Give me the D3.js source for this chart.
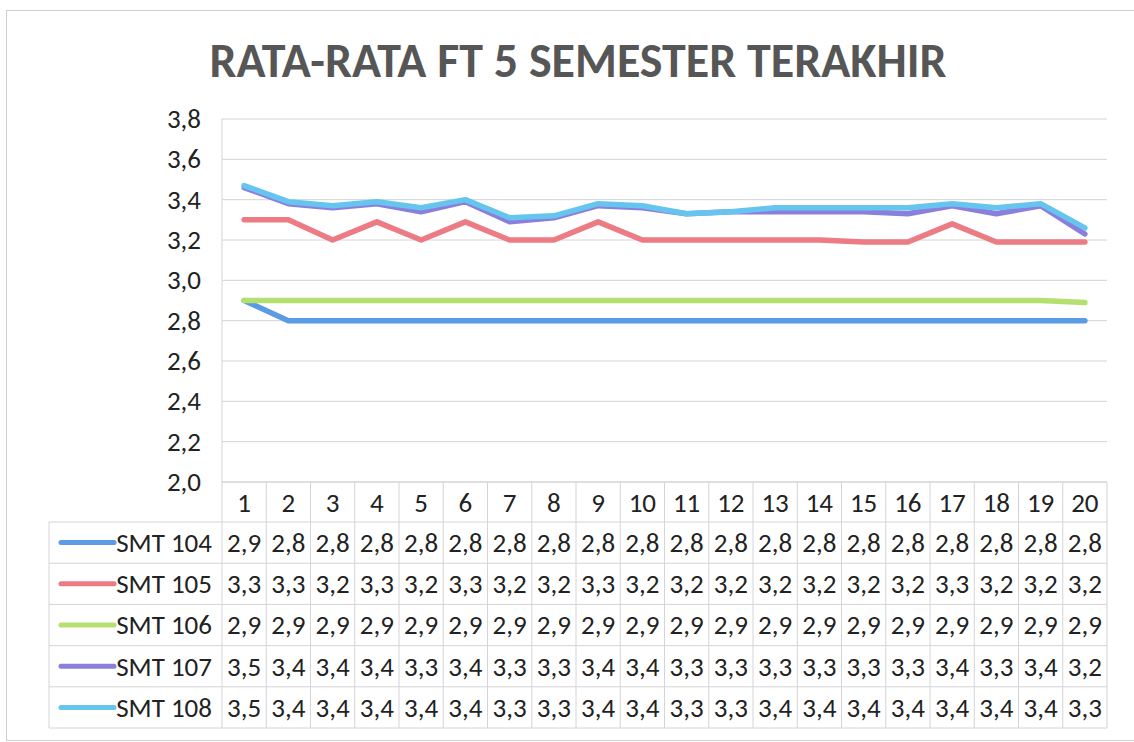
<!DOCTYPE html>
<html>
<head>
<meta charset="utf-8">
<script src="https://cdn.jsdelivr.net/npm/d3@7"></script>
<style>
  body { margin: 0; background: #fff; }
  svg { display: block; }
</style>
</head>
<body>
<svg id="chart" width="1134" height="742"></svg>
<script>
// data
var categories = ["1","2","3","4","5","6","7","8","9","10","11","12","13","14","15","16","17","18","19","20"];
var seriesNames = ["SMT 104", "SMT 105", "SMT 106", "SMT 107", "SMT 108"];
var smt104 = [2.90,2.80,2.80,2.80,2.80,2.80,2.80,2.80,2.80,2.80,2.80,2.80,2.80,2.80,2.80,2.80,2.80,2.80,2.80,2.80];
var smt105 = [3.30,3.30,3.20,3.29,3.20,3.29,3.20,3.20,3.29,3.20,3.20,3.20,3.20,3.20,3.19,3.19,3.28,3.19,3.19,3.19];
var smt106 = [2.90,2.90,2.90,2.90,2.90,2.90,2.90,2.90,2.90,2.90,2.90,2.90,2.90,2.90,2.90,2.90,2.90,2.90,2.90,2.89];
var smt107 = [3.46,3.38,3.36,3.38,3.34,3.39,3.29,3.31,3.37,3.36,3.33,3.34,3.34,3.34,3.34,3.33,3.37,3.33,3.37,3.23];
var smt108 = [3.47,3.39,3.37,3.39,3.36,3.40,3.31,3.32,3.38,3.37,3.33,3.34,3.36,3.36,3.36,3.36,3.38,3.36,3.38,3.26];
var yTicks = [2.0,2.2,2.4,2.6,2.8,3.0,3.2,3.4,3.6,3.8];
var titleText = "RATA-RATA FT 5 SEMESTER TERAKHIR";

var seriesValues = [smt104, smt105, smt106, smt107, smt108];
var colors = ["#5b9ae4", "#ec7b84", "#b5df6f", "#8b7fdc", "#66c5ee"];

var svg = d3.select("#chart"),
    width = +svg.attr("width"),
    height = +svg.attr("height");

var font = "Carlito, 'Open Sans', sans-serif";
var ruleColor = "#d4d4d8";
var textSize = 27;

var plotLeft = 222, plotRight = 1107, plotTop = 119, plotBottom = 482;
var headerBottom = 522, rowH = 41.2, legendLeft = 49;

var idLocale = d3.formatLocale({decimal: ",", thousands: ".", grouping: [3], currency: ["", ""]});
var fmt = idLocale.format(".1f");

var x = d3.scaleBand().domain(categories).range([plotLeft, plotRight]);
var y = d3.scaleLinear().domain([2.0, 3.8]).range([plotBottom, plotTop]);

// outer frame (scan border)
svg.append("rect")
    .attr("x", 6.5).attr("y", 10.5)
    .attr("width", width + 20).attr("height", 730)
    .attr("fill", "none").attr("stroke", "#cfcfd4").attr("stroke-width", 1);

// title
svg.append("text")
    .attr("x", 578).attr("y", 77)
    .attr("text-anchor", "middle")
    .attr("font-family", font)
    .attr("font-weight", "bold")
    .attr("font-size", 48)
    .attr("fill", "#565656")
    .attr("textLength", 737)
    .attr("lengthAdjust", "spacingAndGlyphs")
    .text(titleText);

// gridlines
svg.append("g")
    .selectAll("line")
    .data(yTicks)
    .enter().append("line")
    .attr("x1", plotLeft).attr("x2", plotRight)
    .attr("y1", function(d) { return y(d); })
    .attr("y2", function(d) { return y(d); })
    .attr("stroke", ruleColor).attr("stroke-width", 1);

svg.append("line")
    .attr("x1", plotLeft).attr("x2", plotLeft)
    .attr("y1", plotTop).attr("y2", plotBottom)
    .attr("stroke", ruleColor);

// y axis labels
var yAxis = svg.append("g")
    .attr("transform", "translate(" + 201 + ",0)")
    .call(d3.axisLeft(y).tickValues(yTicks).tickFormat(fmt).tickSize(0).tickPadding(0));
yAxis.select(".domain").remove();
yAxis.selectAll("text")
    .attr("font-family", font)
    .attr("font-size", textSize)
    .attr("fill", "#222");

// lines
var line = d3.line()
    .x(function(d, i) { return x(categories[i]) + x.bandwidth() / 2; })
    .y(function(d) { return y(d); });

svg.append("g")
    .selectAll("path")
    .data(seriesValues)
    .enter().append("path")
    .attr("d", line)
    .attr("fill", "none")
    .attr("stroke", function(d, i) { return colors[i]; })
    .attr("stroke-width", 5.5)
    .attr("stroke-linejoin", "round")
    .attr("stroke-linecap", "round");

// data table
var table = svg.append("g");
var tableBottom = headerBottom + rowH * seriesNames.length;

// horizontal rules
table.append("line")
    .attr("x1", plotLeft).attr("x2", plotRight)
    .attr("y1", plotBottom).attr("y2", plotBottom)
    .attr("stroke", ruleColor);
table.selectAll(".hrule")
    .data(d3.range(seriesNames.length + 1))
    .enter().append("line")
    .attr("x1", legendLeft).attr("x2", plotRight)
    .attr("y1", function(i) { return headerBottom + i * rowH; })
    .attr("y2", function(i) { return headerBottom + i * rowH; })
    .attr("stroke", ruleColor);

// vertical rules
table.selectAll(".vrule")
    .data(categories.concat(["end"]))
    .enter().append("line")
    .attr("x1", function(d, i) { return plotLeft + i * x.bandwidth(); })
    .attr("x2", function(d, i) { return plotLeft + i * x.bandwidth(); })
    .attr("y1", plotBottom).attr("y2", tableBottom)
    .attr("stroke", ruleColor);
table.append("line")
    .attr("x1", legendLeft).attr("x2", legendLeft)
    .attr("y1", headerBottom).attr("y2", tableBottom)
    .attr("stroke", ruleColor);

// header numbers
table.selectAll(".hdr")
    .data(categories)
    .enter().append("text")
    .attr("x", function(d) { return x(d) + x.bandwidth() / 2; })
    .attr("y", (plotBottom + headerBottom) / 2 + 1)
    .attr("dy", "0.35em")
    .attr("text-anchor", "middle")
    .attr("font-family", font)
    .attr("font-size", textSize)
    .attr("fill", "#222")
    .text(function(d) { return d; });

var rows = table.selectAll(".row")
    .data(seriesNames)
    .enter().append("g")
    .attr("transform", function(d, i) { return "translate(0," + (headerBottom + i * rowH + rowH / 2) + ")"; });

rows.append("line")
    .attr("x1", 61).attr("x2", 114)
    .attr("y1", 0).attr("y2", 0)
    .attr("stroke", function(d, i) { return colors[i]; })
    .attr("stroke-width", 5)
    .attr("stroke-linecap", "round");

rows.append("text")
    .attr("x", 212)
    .attr("dy", "0.35em")
    .attr("text-anchor", "end")
    .attr("font-family", font)
    .attr("font-size", textSize)
    .attr("fill", "#222")
    .text(function(d) { return d; });

rows.each(function(name, si) {
    d3.select(this).selectAll(".cell")
        .data(seriesValues[si])
        .enter().append("text")
        .attr("x", function(d, i) { return x(categories[i]) + x.bandwidth() / 2; })
        .attr("dy", "0.35em")
        .attr("text-anchor", "middle")
        .attr("font-family", font)
        .attr("font-size", textSize)
        .attr("fill", "#222")
        .text(function(d) { return fmt(d); });
});
</script>
</body>
</html>
